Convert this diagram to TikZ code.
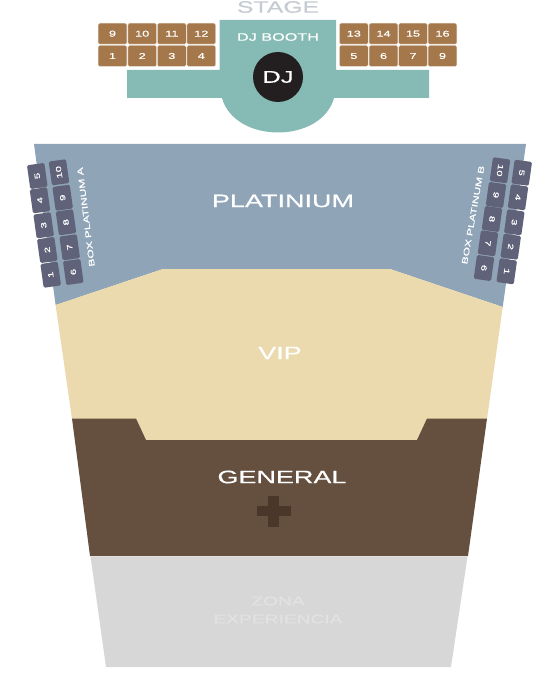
\documentclass[tikz,border=0pt]{standalone}
\usepackage{fontspec}
\setmainfont[FakeStretch=1.5,FakeBold=0.5]{Liberation Sans}
\definecolor{teal1}{HTML}{85BBB4}
\definecolor{plat}{HTML}{90A4B7}
\definecolor{vip}{HTML}{EADAAE}
\definecolor{gen}{HTML}{65503F}
\definecolor{zona}{HTML}{D7D7D7}
\definecolor{seatb}{HTML}{A5784B}
\definecolor{seatp}{HTML}{5F6278}
\definecolor{crossc}{HTML}{4A3729}
\definecolor{stagec}{HTML}{C5CBD3}
\definecolor{zonat}{HTML}{E2E2E2}
\definecolor{djc}{HTML}{231F20}
\tikzset{
  boothseat/.style={fill=seatb,draw=white!80!seatb,line width=.4pt,rounded corners=1.5pt,minimum width=28.8pt,minimum height=21pt,inner sep=0pt,text=white,font=\fontsize{8.5}{10}\selectfont},
  platseat/.style={fill=seatp,rounded corners=1.5pt,minimum width=24pt,minimum height=17.5pt,inner sep=0pt,text=white,font=\fontsize{7.5}{9}\selectfont},
  zonelabel/.style={text=white,inner sep=0pt,font=\fontsize{18}{20}\selectfont},
  smalllabel/.style={text=white,inner sep=0pt,font=\fontsize{8}{10}\selectfont},
}
\begin{document}
\begin{tikzpicture}[x=1pt,y=-1pt]
\useasboundingbox (0,0) rectangle (559,679);
% zones
\fill[plat] (34,144) -- (526,144) -- (502.7,307) -- (390,269) -- (163,269) -- (55.6,305) -- cycle;
\fill[vip] (55.6,305) -- (163,269) -- (390,269) -- (502.7,307) -- (487,419) -- (427,419) -- (417,441) -- (146,441) -- (136,419) -- (72,419) -- cycle;
\fill[gen] (72,418.5) -- (136,418.5) -- (146,440) -- (417,440) -- (427,418.5) -- (487,418.5) -- (468,556) -- (90,556) -- cycle;
\fill[zona] (90.5,556.5) -- (467.5,556.5) -- (451,667) -- (106,667) -- cycle;
\fill[crossc] (268.3,496) rectangle (279,526.7);
\fill[crossc] (256.7,505.7) rectangle (291,516);
% booth
\fill[teal1] (219.5,20) -- (336,20) -- (336,70) -- (429,70) -- (429,98) -- (334,98)
  .. controls (328,120) and (304,132.5) .. (278,132.5)
  .. controls (252,132.5) and (228,120) .. (222,98)
  -- (127,98) -- (127,70) -- (219.5,70) -- cycle;
\node[circle,fill=djc,minimum size=50pt,inner sep=0pt,text=white,font=\fontsize{17}{20}\selectfont] (dj) at (278,77) {DJ};
\node[smalllabel,font=\fontsize{10.8}{12}\selectfont] (booth) at (278,37) {DJ BOOTH};
\node[inner sep=0pt,text=stagec,font=\fontsize{16.5}{18}\selectfont] (stage) at (278,7) {STAGE};
% booth seats
\foreach \t/\x in {9/112.5,10/142.2,11/171.8,12/201.3,13/353.8,14/383.5,15/413,16/442.5}
  \node[boothseat] (t\t) at (\x,33.7) {\t};
\foreach \t/\x/\n in {1/112.5/a,2/142.2/b,3/171.8/c,4/201.3/d,5/353.8/e,6/383.5/f,7/413/g,9/442.5/h}
  \node[boothseat] (b\n) at (\x,56) {\t};
% platinum A
\foreach \t/\x/\y in {5/37.3/176,4/40/200.3,3/43.7/225.3,2/47.3/250,1/50.7/274.7,10/59/172.3,9/62.7/197.7,8/66/222.3,7/69.7/247.3,6/73.3/272}
  \node[platseat,rotate=98] (pa\t) at (\x,\y) {\t};
% platinum B
\foreach \t/\x/\y in {5/521.7/172.7,4/518/197.3,3/514.3/222.3,2/510.7/246.7,1/506.7/271.3,10/500/170.3,9/496/195,8/492/219,7/488/243.3,6/484/268}
  \node[platseat,rotate=-98] (pb\t) at (\x,\y) {\t};
\node[smalllabel,rotate=97] (boxa) at (86,217) {BOX PLATINUM A};
\node[smalllabel,rotate=80] (boxb) at (473,215) {BOX PLATINUM B};
% labels
\node[zonelabel] (lplat) at (283,201) {PLATINIUM};
\node[zonelabel] (lvip) at (280,353) {VIP};
\node[zonelabel] (lgen) at (282,477) {GENERAL};
\node[inner sep=0pt,text=zonat,align=center,font=\fontsize{12.8}{18}\selectfont] (lzona) at (278,610) {ZONA\\EXPERIENCIA};
\end{tikzpicture}
\end{document}
